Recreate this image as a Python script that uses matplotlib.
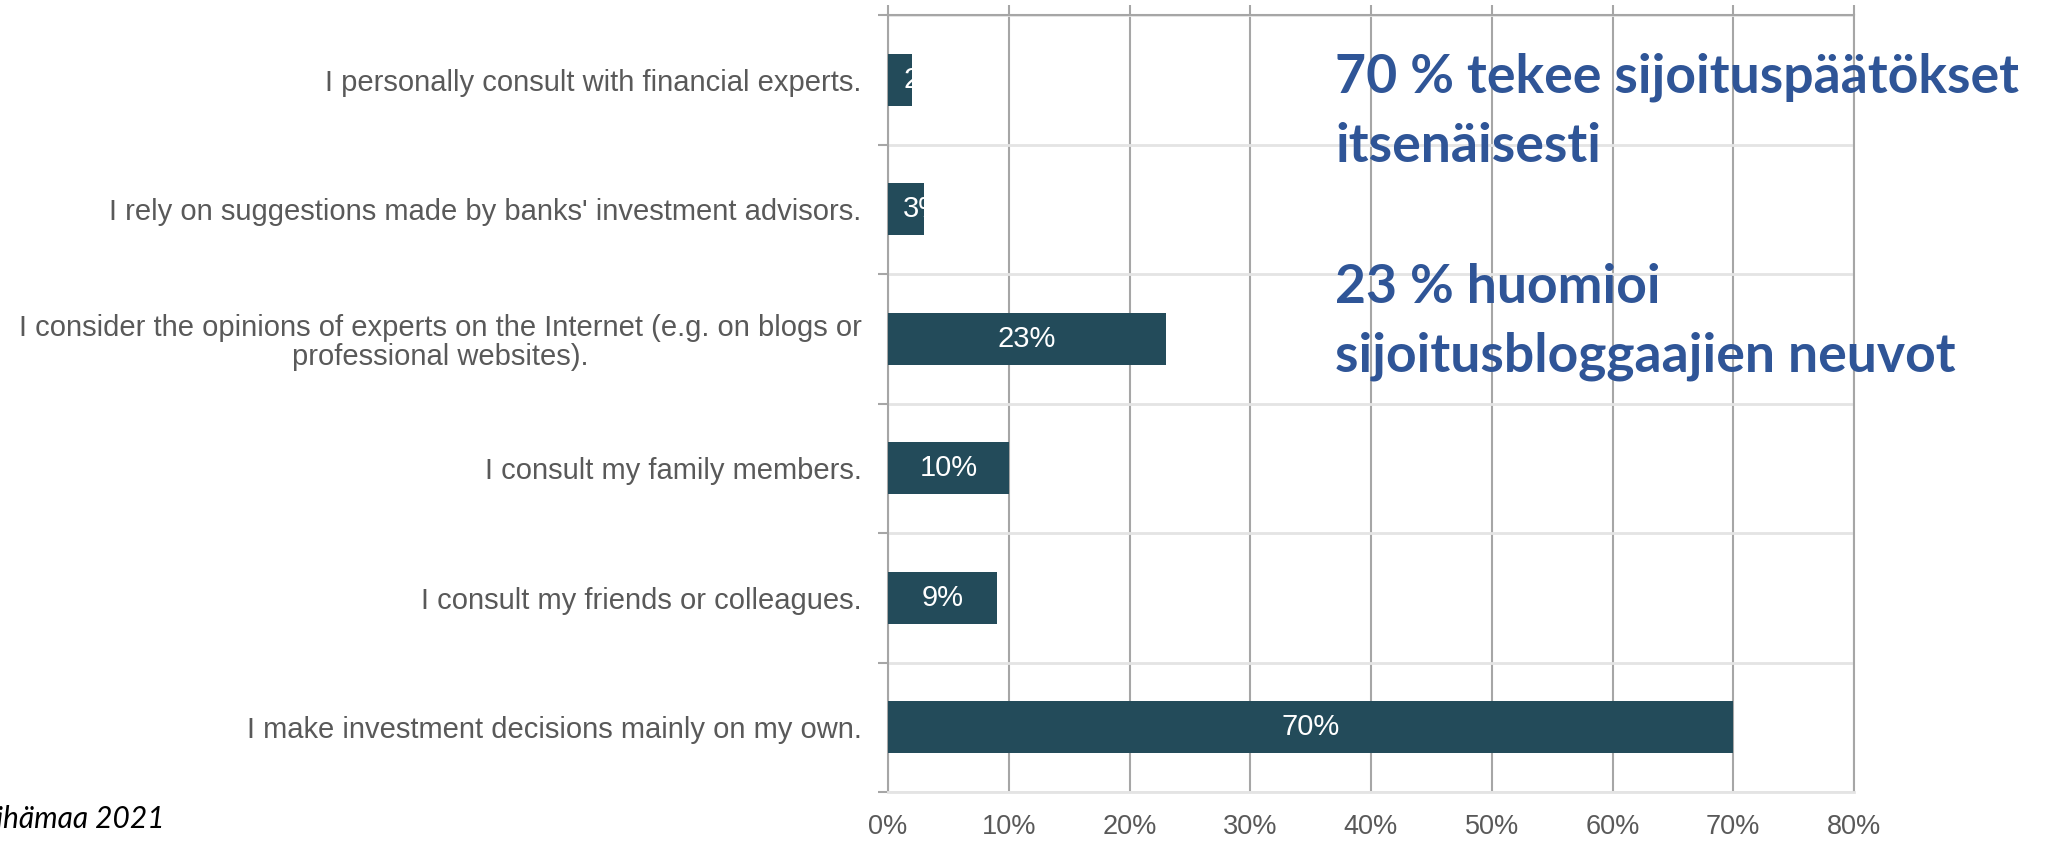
import matplotlib.pyplot as plt
from matplotlib.ticker import MultipleLocator, FixedLocator

# survey answers, top to bottom as in the chart
categories = [
    "I personally consult with financial experts.",
    "I rely on suggestions made by banks' investment advisors.",
    "I consider the opinions of experts on the Internet (e.g. on blogs or\nprofessional websites).",
    "I consult my family members.",
    "I consult my friends or colleagues.",
    "I make investment decisions mainly on my own.",
]
shares = [2, 3, 23, 10, 9, 70]

x_ticks = [0, 10, 20, 30, 40, 50, 60, 70, 80]
x_tick_labels = [f"{v}%" for v in x_ticks]

notes = [
    "70 % tekee sijoituspäätökset",
    "itsenäisesti",
    "23 % huomioi",
    "sijoitusbloggaajien neuvot",
]
source = "Vähämaa 2021"

BAR = "#234B5A"
DARK_GRID = "#A6A6A6"
LIGHT_GRID = "#E4E4E4"
TEXT_GRAY = "#595959"
BLUE = "#2F5597"

plt.rcParams["font.family"] = ["Liberation Sans", "DejaVu Sans"]

fig = plt.figure(figsize=(20.49, 8.42), dpi=100)
ax = fig.add_axes([888 / 2049, 1 - 792 / 842, (1854 - 888) / 2049, (792 - 15) / 842])

pos = list(range(len(categories)))
bars = ax.barh(pos, shares, height=0.40, color=BAR, zorder=3)

ax.set_xlim(0, 80)
ax.set_ylim(len(categories) - 0.5, -0.5)

# value labels inside the bars, clipped to the bar like in the original
for bar, v in zip(bars, shares):
    y = bar.get_y() + bar.get_height() / 2
    if v < 5:
        t = ax.annotate(f"{v}%", (0, y), xytext=(11, 0), textcoords="offset points",
                        ha="left", va="center", color="white", fontsize=21, zorder=4)
    else:
        t = ax.text(v / 2, y, f"{v}%", ha="center", va="center",
                    color="white", fontsize=21, zorder=4)
    t.set_clip_path(bar)

# x axis
ax.xaxis.set_major_locator(FixedLocator(x_ticks))
ax.set_xticklabels(x_tick_labels)
ax.grid(axis="x", color=DARK_GRID, linewidth=1.5, zorder=1)
ax.tick_params(axis="x", bottom=False, top=True, direction="out", length=7,
               width=1.5, color=DARK_GRID, labelsize=19.5, labelcolor=TEXT_GRAY, pad=9)

# y axis: labels at centres, separators between categories
ax.set_yticks(pos)
ax.set_yticklabels(categories, multialignment="center", linespacing=1.05)
ax.yaxis.set_minor_locator(MultipleLocator(1, offset=0.5))
ax.grid(axis="y", which="minor", color=LIGHT_GRID, linewidth=2, zorder=1)
ax.tick_params(axis="y", which="major", length=0, labelsize=21,
               labelcolor=TEXT_GRAY, pad=19)
ax.tick_params(axis="y", which="minor", direction="out", length=7,
               width=1.5, color=DARK_GRID)

for side in ["left", "top", "right"]:
    ax.spines[side].set_color(DARK_GRID)
    ax.spines[side].set_linewidth(1.5)
ax.spines["bottom"].set_color(LIGHT_GRID)
ax.spines["bottom"].set_linewidth(2)

# blue commentary on the right
baselines = [92, 162, 303, 372]
for line, b in zip(notes, baselines):
    fig.text(1335 / 2049, 1 - b / 842, line, family=["Lato", "DejaVu Sans"],
             fontweight="bold", fontsize=38.5, color=BLUE, va="baseline", ha="left")

# source, cut off at the left edge
fig.text(165 / 2049, 1 - 828 / 842, source, family=["Lato", "DejaVu Sans"],
         style="italic", fontsize=21.5, color="black", va="baseline", ha="right")

fig.savefig("out.png", dpi=100)
